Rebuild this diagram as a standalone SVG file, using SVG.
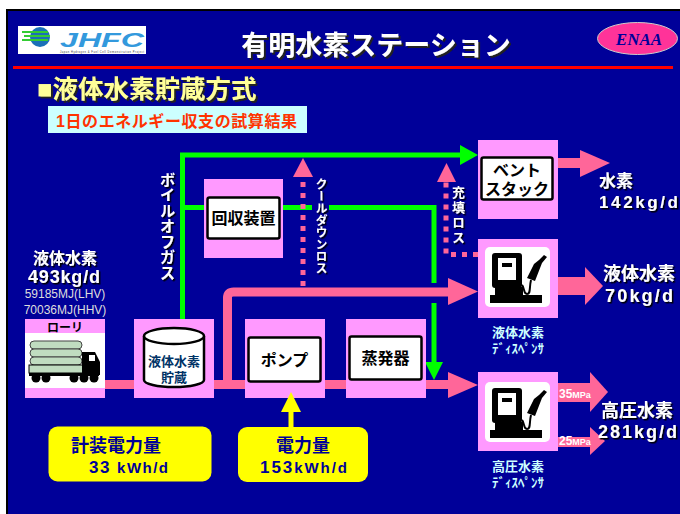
<svg xmlns="http://www.w3.org/2000/svg" width="680" height="514" viewBox="0 0 680 514">
<defs>
<style>
.t{font-family:"Liberation Sans","Noto Sans CJK JP",sans-serif;font-weight:bold}
.w{fill:#fff}
.pk{fill:#ff99ff}
.in{fill:#fff;stroke:#000;stroke-width:2.5}
.lbl{font-size:16px;fill:#000;text-anchor:middle}
.mid{text-anchor:middle}
.pipe{fill:none;stroke:#ff6699;stroke-width:9}
.pf{fill:#ff6699}
.gr{fill:none;stroke:#00ff00;stroke-width:5}
.gf{fill:#00ff00}
.dot{fill:none;stroke:#ff6699;stroke-width:5;stroke-dasharray:5 6}
.cy{fill:#ccffff;font-size:13px;text-anchor:middle}
.vt{writing-mode:vertical-rl;fill:#fff}
.sh{filter:url(#sh)}
.yb{fill:#ffff00}
.yt{fill:#000099}
</style>
<filter id="sh" x="-20%" y="-20%" width="150%" height="150%">
<feDropShadow dx="1.5" dy="1.5" stdDeviation="0" flood-color="#000"/>
</filter>
<filter id="sh2" x="-10%" y="-20%" width="130%" height="150%">
<feDropShadow dx="2" dy="2" stdDeviation="0.3" flood-color="#222"/>
</filter>
<!-- fuel dispenser pictogram -->
<symbol id="disp" viewBox="0 0 65 60">
<rect width="65" height="60" rx="5" fill="#fff"/>
<rect x="7" y="6" width="30" height="35" rx="3" fill="#000"/>
<rect x="13" y="11" width="18" height="22" fill="#fff"/>
<rect x="17" y="16" width="10" height="4" fill="#000"/>
<rect x="10" y="40" width="28" height="8" fill="#000"/>
<rect x="5" y="48" width="52" height="8" fill="#000"/>
<path d="M42 31 L49 17 L54 13 L59 8 L62 10 L57 16 L50 34 Z" fill="#000"/>
<path d="M46 33 C44 41 46 47 42 47 C38 47 40 41 37 38" stroke="#000" stroke-width="2" fill="none"/>
</symbol>
</defs>

<!-- page and slide -->
<rect width="680" height="514" fill="#fff"/>
<rect x="7" y="10" width="680" height="520" fill="#000099" stroke="#000" stroke-width="2"/>

<!-- header -->
<g id="logo-jhfc">
<rect x="18" y="26" width="128" height="28" fill="#fff"/>
<circle cx="40" cy="37" r="10" fill="#1a6fb8"/>
<g stroke="#33cc33" stroke-width="2">
<line x1="22" y1="32" x2="48" y2="32"/>
<line x1="24" y1="36" x2="50" y2="36"/>
<line x1="22" y1="40" x2="48" y2="40"/>
</g>
<text x="60" y="47" font-family="Liberation Sans,sans-serif" font-weight="bold" font-style="italic" font-size="21" fill="#3399dd" textLength="84" lengthAdjust="spacingAndGlyphs">JHFC</text>
<text x="60" y="53.3" font-family="Liberation Sans,sans-serif" font-size="2.6" fill="#333" textLength="84">Japan Hydrogen &amp; Fuel Cell Demonstration Project</text>
</g>
<text x="376" y="55" class="t mid w" font-size="27" filter="url(#sh2)">有明水素ステーション</text>
<g id="logo-enaa">
<ellipse cx="637.5" cy="38.5" rx="40" ry="16" fill="#ff3399" stroke="#ccc" stroke-width="1"/>
<text x="639" y="45" font-family="Liberation Serif,serif" font-weight="bold" font-style="italic" font-size="17" fill="#000099" text-anchor="middle">ENAA</text>
</g>
<rect x="13" y="66" width="660" height="3" fill="#ff0000"/>
<text x="37" y="98" class="t" font-size="25.5" fill="#ffff99" filter="url(#sh2)">■液体水素貯蔵方式</text>
<rect x="48" y="106" width="259" height="27" fill="#ccffff"/>
<text x="56" y="127" class="t" font-size="16" fill="#ff3300" textLength="241">1日のエネルギー収支の試算結果</text>

<!-- connectors -->
<g id="connectors">
<!-- main liquid hydrogen line -->
<line x1="105" y1="384.5" x2="452" y2="384.5" class="pipe"/>
<polygon points="448,372 478,385 448,398" class="pf"/>
<!-- bypass line to liquid dispenser -->
<path d="M227.5 384 V298 Q227.5 292 233.5 292 H452" class="pipe"/>
<polygon points="448,278 478,291.5 448,305" class="pf"/>
<!-- boil-off gas lines -->
<path d="M182.5 320 V155 H462" class="gr"/>
<polygon points="460,145 478,155 460,165" class="gf"/>
<line x1="182.5" y1="207.5" x2="205" y2="207.5" class="gr"/>
<line x1="283" y1="207.5" x2="312" y2="207.5" class="gr"/>
<path d="M329 207.5 H434 V283" class="gr"/>
<line x1="434" y1="303" x2="434" y2="364" class="gr"/>
<polygon points="425,362 443,362 434,380" class="gf"/>
<!-- cool-down loss -->
<line x1="303" y1="286" x2="303" y2="177" class="dot"/>
<polygon points="293,177 313,177 303,158" class="pf"/>
<!-- filling loss -->
<path d="M478 254.5 H446 V182" class="dot"/>
<polygon points="437,182 456,182 446.5,163" class="pf"/>
<!-- outlets -->
<rect x="558" y="158" width="24" height="10" class="pf"/>
<polygon points="580,150 610,163 580,177" class="pf"/>
<rect x="558" y="277" width="29" height="18" class="pf"/>
<polygon points="585,267 603,286 585,305" class="pf"/>
<rect x="558" y="383" width="34" height="19" class="pf"/>
<polygon points="590,372 608,392 590,412" class="pf"/>
<rect x="558" y="437" width="34" height="10" class="pf"/>
<polygon points="590,427 605,441 590,455" class="pf"/>
</g>

<!-- nodes -->
<g id="lorry">
<rect x="25" y="319" width="80" height="79" class="pk"/>
<rect x="25" y="333" width="80" height="55" fill="#fff"/>
<text x="65" y="332" class="t mid" font-size="12" fill="#000">ローリ</text>
<g fill="#c0dcc0" stroke="#444" stroke-width="1">
<rect x="30" y="341" width="52" height="8" rx="4"/>
<rect x="30" y="349" width="52" height="8" rx="4"/>
<rect x="30" y="357" width="52" height="8" rx="4"/>
<rect x="29" y="365" width="55" height="8" stroke="#000"/>
</g>
<rect x="29" y="373" width="70" height="3" fill="#000"/>
<path d="M82 352 H95 L100 362 V375 H82 Z" fill="#000"/>
<rect x="89" y="355" width="6" height="6" fill="#fff"/>
<g fill="#000">
<circle cx="36" cy="378" r="4.5"/><circle cx="46" cy="378" r="4.5"/>
<circle cx="74" cy="378" r="4.5"/><circle cx="84" cy="378" r="4.5"/><circle cx="94" cy="378" r="4.5"/>
</g>
</g>

<g id="tank">
<rect x="134" y="319" width="80" height="79" class="pk"/>
<path d="M144 336 V380 A30 7 0 0 0 204 380 V336" fill="#fff" stroke="#000" stroke-width="2.5"/>
<ellipse cx="174" cy="336" rx="30" ry="8" fill="#fff" stroke="#000" stroke-width="2.5"/>
<text x="174" y="366" class="t mid" font-size="13" fill="#003366">液体水素</text>
<text x="174" y="382" class="t mid" font-size="13" fill="#003366">貯蔵</text>
</g>

<g id="recovery">
<rect x="204" y="179" width="79" height="79" class="pk"/>
<rect x="207.5" y="197.5" width="72" height="41" rx="2" class="in"/>
<text x="243.5" y="224" class="t lbl">回収装置</text>
</g>

<g id="pump">
<rect x="245" y="319" width="80" height="79" class="pk"/>
<rect x="248.5" y="337.5" width="72" height="44" rx="2" class="in"/>
<text x="284.5" y="366" class="t lbl" font-size="17">ポンプ</text>
</g>

<g id="evaporator">
<rect x="346" y="319" width="80" height="79" class="pk"/>
<rect x="349.5" y="336.5" width="72" height="43" rx="2" class="in"/>
<text x="385.5" y="364" class="t lbl">蒸発器</text>
</g>

<g id="vent-stack">
<rect x="478" y="140" width="80" height="79" class="pk"/>
<rect x="481.5" y="157.5" width="71" height="42" rx="2" class="in"/>
<text x="517" y="176" class="t lbl" font-size="15">ベント</text>
<text x="517" y="195" class="t lbl" font-size="15">スタック</text>
</g>

<g id="liquid-dispenser">
<rect x="478" y="239" width="80" height="79" class="pk"/>
<use href="#disp" x="485" y="247" width="65" height="60"/>
<text x="518" y="337" class="t cy">液体水素</text>
<text x="518" y="353" class="t cy">ﾃﾞｨｽﾍﾟﾝｻ</text>
</g>

<g id="hp-dispenser">
<rect x="478" y="372" width="80" height="79" class="pk"/>
<use href="#disp" x="485" y="381" width="65" height="62"/>
<text x="518" y="471" class="t cy">高圧水素</text>
<text x="518" y="487" class="t cy">ﾃﾞｨｽﾍﾟﾝｻ</text>
</g>

<g id="power-instrument">
<rect x="48.5" y="426.5" width="163" height="55" rx="9" class="yb"/>
<text x="71" y="452" class="t yt" font-size="18">計装電力量</text>
<text x="89" y="473" class="t yt" font-size="17" textLength="79">33 <tspan font-size="15">kWh/d</tspan></text>
</g>

<g id="power-pump">
<rect x="238" y="427" width="130" height="55" rx="9" class="yb"/>
<text x="303" y="452" class="t yt mid" font-size="18">電力量</text>
<text x="260" y="473" class="t yt" font-size="17" textLength="87">153<tspan font-size="15">kWh/d</tspan></text>
<rect x="288.5" y="410" width="5" height="17" class="yb"/>
<polygon points="281,412 301,412 291,392" class="yb"/>
</g>

<!-- labels -->
<g class="t w sh">
<text x="65" y="264" class="mid" font-size="16">液体水素</text>
<text x="28" y="283" font-size="18" textLength="72">493kg/d</text>
<text x="599" y="187" font-size="17">水素</text>
<text x="599" y="208" font-size="17" textLength="79">142kg/d</text>
<text x="639" y="280" class="mid" font-size="18">液体水素</text>
<text x="605" y="302" font-size="18" textLength="68">70kg/d</text>
<text x="637" y="417" class="mid" font-size="18">高圧水素</text>
<text x="598" y="438" font-size="18" textLength="79">281kg/d</text>
<text x="166" y="172" class="vt" font-size="15.5">ボイルオフガス</text>
<text x="320" y="178" class="vt" font-size="12">クールダウンロス</text>
<text x="457.5" y="186" class="vt" font-size="13" letter-spacing="2">充填ロス</text>
</g>
<text x="65" y="298" class="mid" font-family="Liberation Sans,sans-serif" font-size="12" fill="#ddd">59185MJ(LHV)</text>
<text x="65" y="314" class="mid" font-family="Liberation Sans,sans-serif" font-size="12" fill="#ddd">70036MJ(HHV)</text>
<text x="559" y="398" class="t w" font-size="12">35<tspan font-size="9">MPa</tspan></text>
<text x="559" y="445" class="t w" font-size="12">25<tspan font-size="9">MPa</tspan></text>
</svg>
